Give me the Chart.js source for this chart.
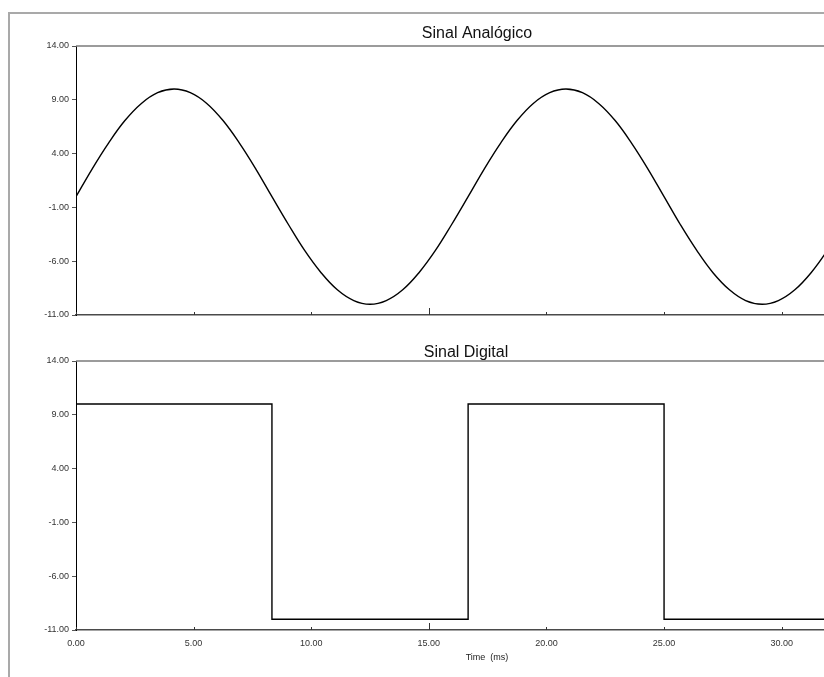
<!DOCTYPE html>
<html><head><meta charset="utf-8">
<script src="https://cdn.jsdelivr.net/npm/chart.js@4"></script>
<style>
html,body{margin:0;padding:0;background:#fff;overflow:hidden;width:824px;height:677px;}
#frame{position:absolute;left:8px;top:12px;width:840px;height:700px;border-left:2px solid #a9a9a9;border-top:2px solid #a9a9a9;box-sizing:border-box;}
#c1{position:absolute;left:0;top:0;}
#c2{position:absolute;left:0;top:330px;}
</style></head><body>
<div id="frame"></div>
<canvas id="c1" width="860" height="330"></canvas>
<canvas id="c2" width="860" height="347"></canvas>
<script>
// ---- data ----
const timeMs = [0.00,0.69,1.39,2.08,2.78,3.47,4.17,4.86,5.56,6.25,6.94,7.64,8.33,9.03,9.72,10.42,11.11,11.81,12.50,13.19,13.89,14.58,15.28,15.97,16.67,17.36,18.06,18.75,19.44,20.14,20.83,21.53,22.22,22.92,23.61,24.31,25.00,25.69,26.39,27.08,27.78,28.47,29.17,29.86,30.56,31.25,31.94,32.64,33.33];
const analogValues = [0,2.59,5.00,7.07,8.66,9.66,10.00,9.66,8.66,7.07,5.00,2.59,0,-2.59,-5.00,-7.07,-8.66,-9.66,-10.00,-9.66,-8.66,-7.07,-5.00,-2.59,0,2.59,5.00,7.07,8.66,9.66,10.00,9.66,8.66,7.07,5.00,2.59,0,-2.59,-5.00,-7.07,-8.66,-9.66,-10.00,-9.66,-8.66,-7.07,-5.00,-2.59,0];
const digitalTimes = [0.00,8.33,16.67,25.00,33.33];
const digitalValues = [10,-10,10,-10,-10];
const yTickValues = [14,9,4,-1,-6,-11];
const xTickValues = [0,5,10,15,20,25,30];
const chartTitles = ['Sinal Analógico','Sinal Digital'];
const xAxisTitle = 'Time  (ms)';

const FONT = "'Liberation Sans', Arial, sans-serif";

const decor = {
  id:'decor',
  afterDraw(chart, args, o){
    const ctx = chart.ctx, a = chart.chartArea, xs = chart.scales.x;
    ctx.save();
    // gray top border of plot
    ctx.strokeStyle = '#7a7a7a'; ctx.lineWidth = 1.5;
    ctx.beginPath(); ctx.moveTo(a.left, a.top); ctx.lineTo(chart.width, a.top); ctx.stroke();
    // inward tick marks on x axis
    ctx.strokeStyle = '#333'; ctx.lineWidth = 1;
    xTickValues.forEach(v=>{
      const px = Math.round(xs.getPixelForValue(v)) + 0.5;
      const len = v === 15 ? 7 : 3;
      ctx.beginPath(); ctx.moveTo(px, a.bottom); ctx.lineTo(px, a.bottom - len); ctx.stroke();
    });
    // chart title
    ctx.fillStyle = '#111';
    ctx.font = '16px ' + FONT;
    ctx.textAlign = 'center'; ctx.textBaseline = 'alphabetic';
    ctx.fillText(o.title, o.tx, o.ty);
    if (o.xTitle) {
      ctx.font = '9px ' + FONT;
      ctx.fillStyle = '#222';
      ctx.fillText(o.xTitle, o.xtx, o.xty);
    }
    ctx.restore();
  }
};

function makeChart(canvas, pts, stepped, decorOpts, showXLabels, xAxisHeight, padTop){
  return new Chart(canvas, {
    type:'line',
    data:{datasets:[{
      data: pts, borderColor:'#000', borderWidth:1.4, pointRadius:0,
      tension: stepped ? 0 : 0.4, stepped: stepped ? 'before' : false, fill:false
    }]},
    options:{
      responsive:false, animation:false,
      layout:{padding:{top:padTop,left:0,right:0,bottom:0}},
      plugins:{legend:{display:false}, tooltip:{enabled:false}, title:{display:false}, decor: decorOpts},
      scales:{
        x:{
          type:'linear', min:0, max:33.33,
          afterBuildTicks: s => { s.ticks = xTickValues.map(v => ({value:v})); },
          afterFit: s => { s.height = xAxisHeight; },
          grid:{display:true, drawOnChartArea:false, drawTicks:false},
          border:{display:true, color:'#4a4a4a', width:1.5},
          ticks:{display:showXLabels, padding:8, color:'#333', font:{family:FONT, size:9},
                 callback: v => Number(v).toFixed(2), maxRotation:0, autoSkip:false}
        },
        y:{
          type:'linear', min:-11, max:14,
          afterBuildTicks: s => { s.ticks = yTickValues.map(v => ({value:v})); },
          afterFit: s => { s.width = 76; },
          grid:{display:true, drawOnChartArea:false, drawTicks:true, tickLength:4, color:'#555'},
          border:{display:true, color:'#000', width:1},
          ticks:{padding:3, color:'#333', font:{family:FONT, size:9},
                 callback: v => Number(v).toFixed(2), autoSkip:false}
        }
      }
    },
    plugins:[decor]
  });
}

const analogPts = timeMs.map((t,i) => ({x:t, y:analogValues[i]}));
const digitalPts = digitalTimes.map((t,i) => ({x:t, y:digitalValues[i]}));

makeChart(document.getElementById('c1'), analogPts, false,
  {title:chartTitles[0], tx:477, ty:38}, false, 15, 46);
makeChart(document.getElementById('c2'), digitalPts, true,
  {title:chartTitles[1], tx:466, ty:27, xTitle:xAxisTitle, xtx:487, xty:330}, true, 47, 31);
</script>
</body></html>
